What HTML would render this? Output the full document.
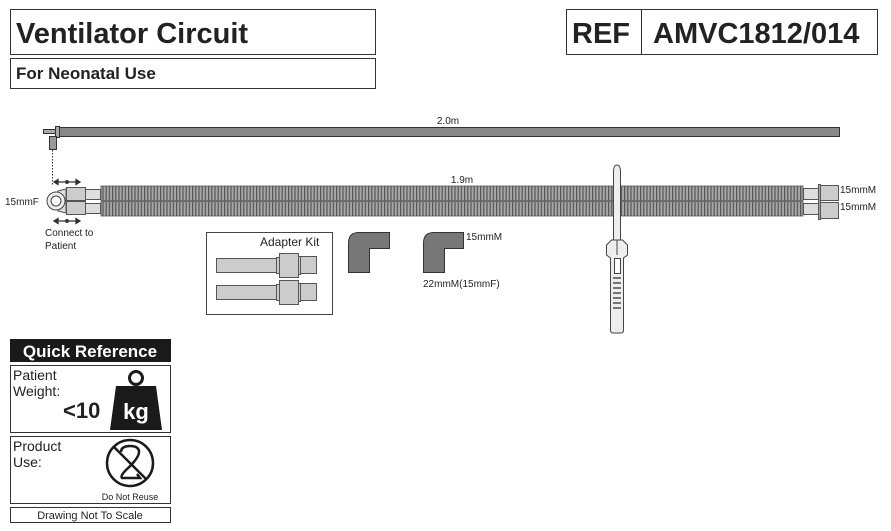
<!DOCTYPE html>
<html><head><meta charset="utf-8"><style>html,body{margin:0;padding:0;background:#fff}svg{display:block}</style></head><body>
<svg width="891" height="531" viewBox="0 0 891 531" xmlns="http://www.w3.org/2000/svg" font-family="Liberation Sans, Arial, sans-serif">
<defs>
<pattern id="corr" width="3.2" height="10" patternUnits="userSpaceOnUse"><rect width="3.2" height="10" fill="#a8a8a8"/><rect width="1.2" height="10" fill="#555"/></pattern>
</defs>
<!-- headers -->
<rect x="10.5" y="9.5" width="365" height="45" fill="#fff" stroke="#333"/>
<text x="16" y="43" font-size="29" font-weight="bold" fill="#222">Ventilator Circuit</text>
<rect x="10.5" y="58.5" width="365" height="30" fill="#fff" stroke="#333"/>
<text x="16" y="79" font-size="17" font-weight="bold" fill="#222">For Neonatal Use</text>
<rect x="566.5" y="9.5" width="311" height="45" fill="#fff" stroke="#333"/>
<line x1="641.5" y1="9" x2="641.5" y2="55" stroke="#333"/>
<text x="572" y="43" font-size="29" font-weight="bold" fill="#222">REF</text>
<text x="653" y="43" font-size="29" font-weight="bold" fill="#222">AMVC1812/014</text>
<!-- top tube -->
<text x="448" y="124" font-size="10" text-anchor="middle" fill="#222">2.0m</text>
<rect x="58.5" y="127.5" width="781" height="9" fill="#888" stroke="#333"/>
<rect x="43.5" y="129.5" width="12" height="4" fill="#aaa" stroke="#333"/>
<rect x="55.5" y="126.5" width="4" height="11" fill="#aaa" stroke="#333"/>
<rect x="49.5" y="136.5" width="7" height="13" fill="#999" stroke="#333"/>
<line x1="52.5" y1="150" x2="52.5" y2="186" stroke="#333" stroke-dasharray="1.5,1.5"/>
<!-- corrugated tubes -->
<text x="462" y="183" font-size="10" text-anchor="middle" fill="#222">1.9m</text>
<rect x="101" y="186" width="702" height="14.5" fill="url(#corr)" stroke="#555" stroke-width="0.8"/>
<rect x="101" y="201.5" width="702" height="14.5" fill="url(#corr)" stroke="#555" stroke-width="0.8"/>
<!-- left connectors -->
<rect x="66.5" y="187.5" width="19" height="13" fill="#ccc" stroke="#555"/>
<rect x="66.5" y="201.5" width="19" height="13" fill="#ccc" stroke="#555"/>
<rect x="85.5" y="189.5" width="15" height="10" fill="#ddd" stroke="#555"/>
<rect x="85.5" y="203.5" width="15" height="10" fill="#ddd" stroke="#555"/>
<path d="M58 191 L66 189 L66 213 L58 211 Z" fill="#ddd" stroke="#555"/>
<circle cx="56" cy="201" r="9" fill="#eee" stroke="#444"/>
<circle cx="56" cy="201" r="5" fill="#fff" stroke="#444"/>
<g stroke="#333" stroke-width="1.3" fill="#333">
<line x1="56" y1="182" x2="78" y2="182"/><path d="M54 182 l4 -2.5 v5z M80 182 l-4 -2.5 v5z"/><circle cx="67" cy="182" r="1.3"/>
<line x1="56" y1="221" x2="78" y2="221"/><path d="M54 221 l4 -2.5 v5z M80 221 l-4 -2.5 v5z"/><circle cx="67" cy="221" r="1.3"/>
</g>
<text x="5" y="205" font-size="10" fill="#222">15mmF</text>
<text x="45" y="236" font-size="10" fill="#222">Connect to</text>
<text x="45" y="249" font-size="10" fill="#222">Patient</text>
<!-- right connectors -->
<rect x="803.5" y="188.5" width="15" height="11" fill="#ddd" stroke="#555"/>
<rect x="803.5" y="203.5" width="15" height="11" fill="#ddd" stroke="#555"/>
<rect x="818.5" y="184.5" width="2" height="35" fill="#aaa" stroke="#555"/>
<rect x="820.5" y="185.5" width="18" height="15" fill="#ccc" stroke="#555"/>
<rect x="820.5" y="202.5" width="18" height="16" fill="#ccc" stroke="#555"/>
<text x="840" y="193" font-size="10" fill="#222">15mmM</text>
<text x="840" y="210" font-size="10" fill="#222">15mmM</text>
<!-- clip -->
<path d="M613.5 240 V172 Q613.5 165 617 165 Q620.5 165 620.5 172 V240" fill="#eee" stroke="#444"/>
<path d="M611.5 240 L606.5 245 V255 L610.5 258 V330 Q610.5 333 613 333 H621 Q623.5 333 623.5 330 V258 L627.5 255 V245 L622.5 240 Z" fill="#eee" stroke="#444"/>
<line x1="617" y1="240" x2="617" y2="255" stroke="#444"/>
<rect x="614.5" y="258.5" width="6" height="15" fill="#fff" stroke="#444"/>
<g stroke="#333" stroke-width="1.3"><line x1="613" y1="278" x2="621" y2="278"/><line x1="613" y1="283" x2="621" y2="283"/><line x1="613" y1="288" x2="621" y2="288"/><line x1="613" y1="293" x2="621" y2="293"/><line x1="613" y1="298" x2="621" y2="298"/><line x1="613" y1="303" x2="621" y2="303"/><line x1="613" y1="308" x2="621" y2="308"/></g>
<!-- adapter kit -->
<rect x="206.5" y="232.5" width="126" height="82" fill="#fff" stroke="#444"/>
<text x="260" y="246" font-size="12" fill="#222">Adapter Kit</text>
<g fill="#ccc" stroke="#555">
<rect x="216.5" y="258.5" width="60" height="14"/><rect x="276.5" y="257.5" width="3" height="16"/><rect x="279.5" y="253.5" width="19" height="24"/><rect x="298.5" y="256.5" width="2" height="18"/><rect x="300.5" y="256.5" width="16" height="17"/>
<rect x="216.5" y="285.5" width="60" height="14"/><rect x="276.5" y="284.5" width="3" height="16"/><rect x="279.5" y="280.5" width="19" height="24"/><rect x="298.5" y="283.5" width="2" height="18"/><rect x="300.5" y="283.5" width="16" height="17"/>
</g>
<!-- elbows -->
<path d="M348.5 272.5 V243 Q348.5 232.5 359 232.5 H389.5 V248.5 H369.5 V272.5 Z" fill="#777" stroke="#333"/>
<path d="M423.5 272.5 V243 Q423.5 232.5 434 232.5 H463.5 V248.5 H444.5 V272.5 Z" fill="#777" stroke="#333"/>
<text x="466" y="240" font-size="10" fill="#222">15mmM</text>
<text x="423" y="287" font-size="10" fill="#222">22mmM(15mmF)</text>
<!-- quick reference -->
<rect x="10" y="339" width="161" height="23" fill="#1a1a1a"/>
<text x="90" y="357" font-size="17" font-weight="bold" fill="#fff" text-anchor="middle">Quick Reference</text>
<rect x="10.5" y="365.5" width="160" height="67" fill="#fff" stroke="#333"/>
<text x="13" y="380" font-size="14" fill="#222">Patient</text>
<text x="13" y="396" font-size="14" fill="#222">Weight:</text>
<text x="63" y="418" font-size="22" font-weight="bold" fill="#222">&lt;10</text>
<circle cx="136" cy="378" r="6.5" fill="none" stroke="#1a1a1a" stroke-width="3"/>
<path d="M116 386 H156 L162 430 H110 Z" fill="#1a1a1a"/>
<text x="136" y="419" font-size="22" font-weight="bold" fill="#fff" text-anchor="middle">kg</text>
<rect x="10.5" y="436.5" width="160" height="67" fill="#fff" stroke="#333"/>
<text x="13" y="451" font-size="14" fill="#222">Product</text>
<text x="13" y="467" font-size="14" fill="#222">Use:</text>
<circle cx="130" cy="463" r="23" fill="none" stroke="#1a1a1a" stroke-width="2.5"/>
<path d="M121 452 Q121 446 130 446 Q139 446 139 452 Q139 458 126 470 Q120 476 122 478 H140 L137 474" fill="none" stroke="#1a1a1a" stroke-width="2.5"/>
<line x1="114" y1="447" x2="146" y2="479" stroke="#1a1a1a" stroke-width="2.5"/>
<text x="130" y="500" font-size="9" fill="#222" text-anchor="middle">Do Not Reuse</text>
<rect x="10.5" y="507.5" width="160" height="15" fill="#fff" stroke="#333"/>
<text x="90" y="519" font-size="11" fill="#222" text-anchor="middle">Drawing Not To Scale</text>
</svg>
</body></html>
